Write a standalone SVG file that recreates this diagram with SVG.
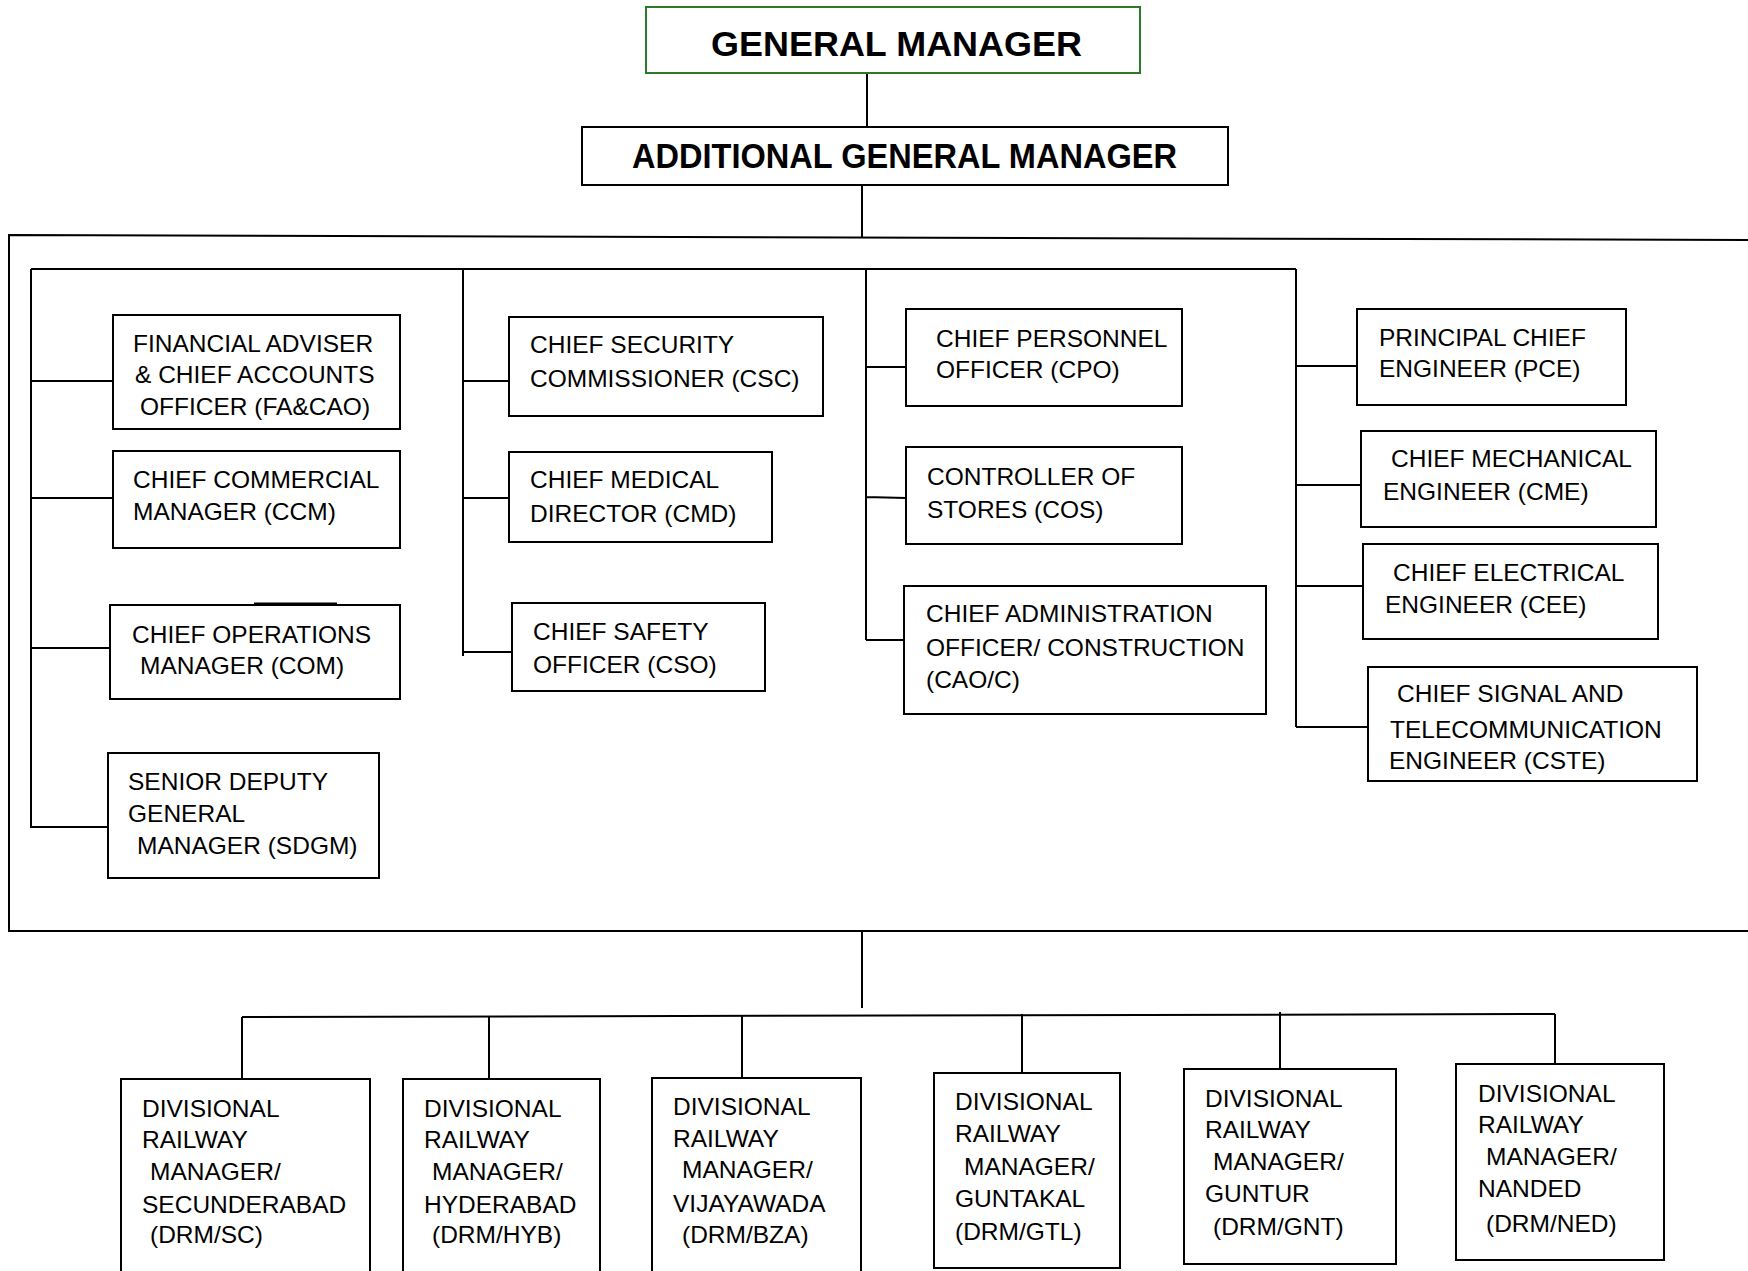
<svg xmlns="http://www.w3.org/2000/svg" width="1748" height="1271" viewBox="0 0 1748 1271">
<style>
.bx{fill:#fff;stroke:#000;stroke-width:2}
.gm{fill:#fff;stroke:#2a7a2a;stroke-width:2}
.t{font-family:"Liberation Sans",Arial,sans-serif;font-size:24.5px;fill:#000}
.h{font-family:"Liberation Sans",Arial,sans-serif;font-size:35px;font-weight:bold;fill:#000;text-anchor:middle}
#connectors path{fill:none;stroke:#000;stroke-width:2}
</style>
<rect width="1748" height="1271" fill="#fff"/>
<g id="connectors">
<path d="M867,73 V127"/>
<path d="M862,185 V237"/>
<path d="M1748,240 L9,235 V931 H1748"/>
<path d="M31,269 H1296"/>
<path d="M31,269 V828 M30,381 H113 M31,498 H116 M30,648 H110 M31,827 H108"/>
<path d="M254,604 H337" style="stroke-width:3"/>
<path d="M463,269 V656 M463,381 H509 M463,498 H509 M463,652 H512"/>
<path d="M866,269 V640 M866,367 H906 M866,497 L906,498 M866,640 H904"/>
<path d="M1296,269 V727 M1296,366 H1357 M1296,485 H1364 M1296,586 H1363 M1296,727 H1368"/>
<path d="M862,931 V1008"/>
<path d="M242,1017 L1555,1014"/>
<path d="M242,1017 V1079 M489,1017 V1079 M742,1016 V1078 M1022,1014 V1073 M1280,1012 V1069 M1555,1014 V1064"/>
</g>
<g id="gm"><rect class="gm" x="646" y="7" width="494" height="66"/><text class="h" x="896.5" y="56" textLength="371" lengthAdjust="spacingAndGlyphs">GENERAL MANAGER</text></g>
<g id="agm"><rect class="bx" x="582" y="127" width="646" height="58"/><text class="h" x="904.5" y="168" textLength="545" lengthAdjust="spacingAndGlyphs">ADDITIONAL GENERAL MANAGER</text></g>
<g id="fa"><rect class="bx" x="113" y="315" width="287" height="114"/><text class="t"><tspan x="133" y="352">FINANCIAL ADVISER</tspan><tspan x="135" y="383">&amp; CHIEF ACCOUNTS</tspan><tspan x="140" y="415">OFFICER (FA&amp;CAO)</tspan></text></g>
<g id="ccm"><rect class="bx" x="113" y="451" width="287" height="97"/><text class="t"><tspan x="133" y="488">CHIEF COMMERCIAL</tspan><tspan x="133" y="520">MANAGER (CCM)</tspan></text></g>
<g id="com"><rect class="bx" x="110" y="605" width="290" height="94"/><text class="t"><tspan x="132" y="643">CHIEF OPERATIONS</tspan><tspan x="140" y="674">MANAGER (COM)</tspan></text></g>
<g id="sdgm"><rect class="bx" x="108" y="753" width="271" height="125"/><text class="t"><tspan x="128" y="790">SENIOR DEPUTY</tspan><tspan x="128" y="822">GENERAL</tspan><tspan x="137" y="854">MANAGER (SDGM)</tspan></text></g>
<g id="csc"><rect class="bx" x="509" y="317" width="314" height="99"/><text class="t"><tspan x="530" y="353">CHIEF SECURITY</tspan><tspan x="530" y="387">COMMISSIONER (CSC)</tspan></text></g>
<g id="cmd"><rect class="bx" x="509" y="452" width="263" height="90"/><text class="t"><tspan x="530" y="488">CHIEF MEDICAL</tspan><tspan x="530" y="522">DIRECTOR (CMD)</tspan></text></g>
<g id="cso"><rect class="bx" x="512" y="603" width="253" height="88"/><text class="t"><tspan x="533" y="640">CHIEF SAFETY</tspan><tspan x="533" y="673">OFFICER (CSO)</tspan></text></g>
<g id="cpo"><rect class="bx" x="906" y="309" width="276" height="97"/><text class="t"><tspan x="936" y="347">CHIEF PERSONNEL</tspan><tspan x="936" y="378">OFFICER (CPO)</tspan></text></g>
<g id="cos"><rect class="bx" x="906" y="447" width="276" height="97"/><text class="t"><tspan x="927" y="485">CONTROLLER OF</tspan><tspan x="927" y="518">STORES (COS)</tspan></text></g>
<g id="cao"><rect class="bx" x="904" y="586" width="362" height="128"/><text class="t"><tspan x="926" y="622">CHIEF ADMINISTRATION</tspan><tspan x="926" y="656">OFFICER/ CONSTRUCTION</tspan><tspan x="926" y="688">(CAO/C)</tspan></text></g>
<g id="pce"><rect class="bx" x="1357" y="309" width="269" height="96"/><text class="t"><tspan x="1379" y="346">PRINCIPAL CHIEF</tspan><tspan x="1379" y="377">ENGINEER (PCE)</tspan></text></g>
<g id="cme"><rect class="bx" x="1361" y="431" width="295" height="96"/><text class="t"><tspan x="1391" y="467">CHIEF MECHANICAL</tspan><tspan x="1383" y="500">ENGINEER (CME)</tspan></text></g>
<g id="cee"><rect class="bx" x="1363" y="544" width="295" height="95"/><text class="t"><tspan x="1393" y="581">CHIEF ELECTRICAL</tspan><tspan x="1385" y="613">ENGINEER (CEE)</tspan></text></g>
<g id="cste"><rect class="bx" x="1368" y="667" width="329" height="114"/><text class="t"><tspan x="1397" y="702">CHIEF SIGNAL AND</tspan><tspan x="1390" y="738">TELECOMMUNICATION</tspan><tspan x="1389" y="769">ENGINEER (CSTE)</tspan></text></g>
<g id="drm-sc"><rect class="bx" x="121" y="1079" width="249" height="220"/><text class="t"><tspan x="142" y="1117">DIVISIONAL</tspan><tspan x="142" y="1148">RAILWAY</tspan><tspan x="150" y="1180">MANAGER/</tspan><tspan x="142" y="1213">SECUNDERABAD</tspan><tspan x="150" y="1243">(DRM/SC)</tspan></text></g>
<g id="drm-hyb"><rect class="bx" x="403" y="1079" width="197" height="220"/><text class="t"><tspan x="424" y="1117">DIVISIONAL</tspan><tspan x="424" y="1148">RAILWAY</tspan><tspan x="432" y="1180">MANAGER/</tspan><tspan x="424" y="1213">HYDERABAD</tspan><tspan x="432" y="1243">(DRM/HYB)</tspan></text></g>
<g id="drm-bza"><rect class="bx" x="652" y="1078" width="209" height="220"/><text class="t"><tspan x="673" y="1115">DIVISIONAL</tspan><tspan x="673" y="1147">RAILWAY</tspan><tspan x="682" y="1178">MANAGER/</tspan><tspan x="673" y="1212">VIJAYAWADA</tspan><tspan x="682" y="1243">(DRM/BZA)</tspan></text></g>
<g id="drm-gtl"><rect class="bx" x="934" y="1073" width="186" height="195"/><text class="t"><tspan x="955" y="1110">DIVISIONAL</tspan><tspan x="955" y="1142">RAILWAY</tspan><tspan x="964" y="1175">MANAGER/</tspan><tspan x="955" y="1207">GUNTAKAL</tspan><tspan x="955" y="1240">(DRM/GTL)</tspan></text></g>
<g id="drm-gnt"><rect class="bx" x="1184" y="1069" width="212" height="195"/><text class="t"><tspan x="1205" y="1107">DIVISIONAL</tspan><tspan x="1205" y="1138">RAILWAY</tspan><tspan x="1213" y="1170">MANAGER/</tspan><tspan x="1205" y="1202">GUNTUR</tspan><tspan x="1213" y="1235">(DRM/GNT)</tspan></text></g>
<g id="drm-ned"><rect class="bx" x="1456" y="1064" width="208" height="196"/><text class="t"><tspan x="1478" y="1102">DIVISIONAL</tspan><tspan x="1478" y="1133">RAILWAY</tspan><tspan x="1486" y="1165">MANAGER/</tspan><tspan x="1478" y="1197">NANDED</tspan><tspan x="1486" y="1232">(DRM/NED)</tspan></text></g>
</svg>
